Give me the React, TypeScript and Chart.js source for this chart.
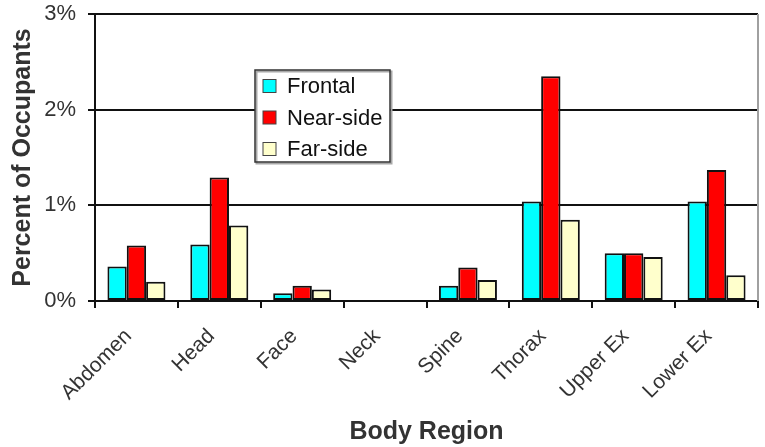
import React, { useEffect, useRef } from "react";
import { Chart, registerables } from "chart.js";

Chart.register(...registerables);

// Injury rates by body region, in percent of occupants
const regions = ["Abdomen", "Head", "Face", "Neck", "Spine", "Thorax", "Upper Ex", "Lower Ex"];
const frontal = [0.36, 0.59, 0.08, 0, 0.16, 1.04, 0.5, 1.04];
const nearSide = [0.58, 1.29, 0.16, 0, 0.35, 2.35, 0.5, 1.37];
const farSide = [0.2, 0.79, 0.12, 0, 0.22, 0.85, 0.46, 0.27];
const yTicks = [0, 1, 2, 3];

const FONT = "'Liberation Sans', Arial, Helvetica, sans-serif";

// Boxed legend drawn inside the plot area, covering the gridlines behind it
const insideLegend = {
  id: "insideLegend",
  afterDraw(chart: any) {
    const { ctx, chartArea } = chart;
    const x = chartArea.left + 160;
    const y = chartArea.top + 56;
    const w = 135;
    const h = 92;
    ctx.save();
    ctx.fillStyle = "#ffffff";
    ctx.fillRect(x, y, w, h);
    ctx.strokeStyle = "#a8a8a8";
    ctx.lineWidth = 2;
    ctx.strokeRect(x + 1.5, y + 1.5, w, h);
    ctx.strokeStyle = "#333";
    ctx.lineWidth = 1.5;
    ctx.strokeRect(x, y, w, h);
    ctx.font = `22px ${FONT}`;
    ctx.textBaseline = "middle";
    chart.data.datasets.forEach((ds: any, i: number) => {
      const cy = y + 16 + i * 31.5;
      ctx.fillStyle = ds.backgroundColor;
      ctx.fillRect(x + 8, cy - 6.5, 13, 13);
      ctx.strokeStyle = "#444";
      ctx.lineWidth = 1;
      ctx.strokeRect(x + 8, cy - 6.5, 13, 13);
      ctx.fillStyle = "#111";
      ctx.fillText(ds.label, x + 32, cy + 1);
    });
    ctx.restore();
  },
};

// Grey frame edge on the right of the plot area
const plotFrame = {
  id: "plotFrame",
  beforeDatasetsDraw(chart: any) {
    const { ctx, chartArea } = chart;
    ctx.save();
    ctx.strokeStyle = "#a0a0a0";
    ctx.lineWidth = 2;
    ctx.beginPath();
    ctx.moveTo(chartArea.right, chartArea.top);
    ctx.lineTo(chartArea.right, chartArea.bottom);
    ctx.stroke();
    ctx.restore();
  },
};

export default function App() {
  const canvasRef = useRef<HTMLCanvasElement | null>(null);

  useEffect(() => {
    if (!canvasRef.current) return;
    const barStyle = { borderColor: "#111", borderWidth: 2, borderSkipped: false as const };
    const chart = new Chart(canvasRef.current, {
      type: "bar",
      data: {
        labels: regions,
        datasets: [
          { label: "Frontal", data: frontal, backgroundColor: "#00ffff", ...barStyle },
          { label: "Near-side", data: nearSide, backgroundColor: "#ff0000", ...barStyle },
          { label: "Far-side", data: farSide, backgroundColor: "#ffffcc", ...barStyle },
        ],
      },
      options: {
        animation: false,
        responsive: true,
        maintainAspectRatio: false,
        layout: { padding: { top: 14, right: 7, left: 0, bottom: 0 } },
        datasets: { bar: { categoryPercentage: 0.7, barPercentage: 1.0 } },
        plugins: {
          legend: { display: false },
          tooltip: { enabled: false },
        },
        scales: {
          x: {
            grid: {
              offset: true,
              drawOnChartArea: false,
              drawTicks: true,
              tickLength: 7,
              color: "#111",
              lineWidth: 2,
            },
            border: { display: true, color: "#111", width: 2 },
            ticks: {
              minRotation: 45,
              maxRotation: 45,
              autoSkip: false,
              padding: 16,
              labelOffset: -8,
              color: "#333",
              font: { family: FONT, size: 21 },
            },
            title: {
              display: true,
              text: "Body Region",
              color: "#333",
              font: { family: FONT, size: 25, weight: "bold" },
              padding: { top: 0, bottom: 0 },
            },
            afterFit(scale: any) {
              scale.height = 146;
              scale.paddingRight = 0;
            },
          },
          y: {
            min: 0,
            max: 3,
            afterBuildTicks(scale: any) {
              scale.ticks = yTicks.map((v) => ({ value: v }));
            },
            grid: {
              color: "#111",
              lineWidth: 2,
              drawTicks: true,
              tickLength: 7,
            },
            border: { display: true, color: "#111", width: 2 },
            ticks: {
              padding: 12,
              color: "#333",
              font: { family: FONT, size: 22 },
              callback: (v: any) => `${v}%`,
            },
            title: {
              display: true,
              text: "Percent of Occupants",
              color: "#333",
              font: { family: FONT, size: 25, weight: "bold" },
              padding: { top: 8, bottom: 0 },
            },
            afterFit(scale: any) {
              scale.width = 95;
              scale.paddingTop = 0;
              scale.paddingBottom = 0;
            },
          },
        },
      },
      plugins: [plotFrame, insideLegend],
    });
    return () => chart.destroy();
  }, []);

  return (
    <div style={{ position: "fixed", left: 0, top: 0, width: 765, height: 447, background: "#fff" }}>
      <canvas ref={canvasRef} />
    </div>
  );
}
